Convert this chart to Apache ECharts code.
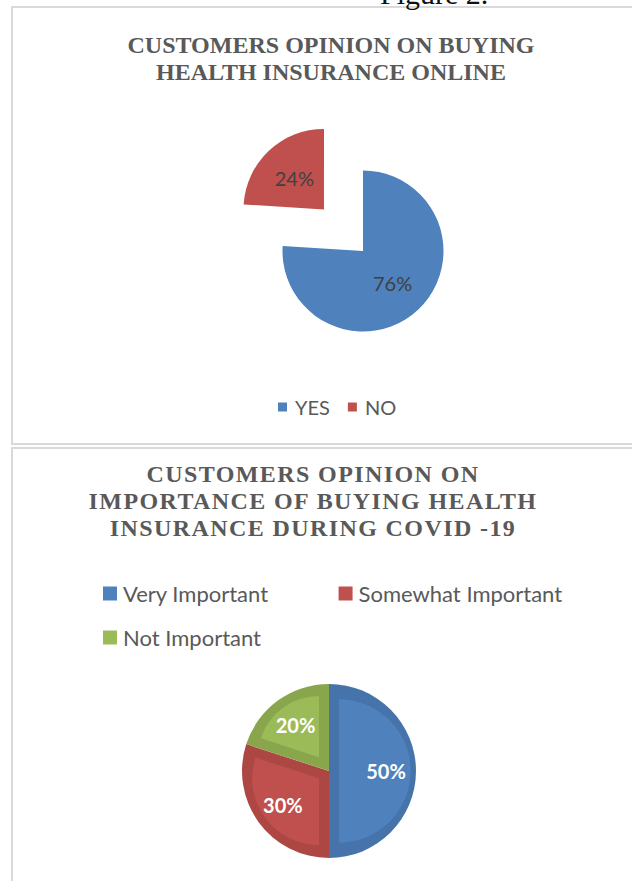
<!DOCTYPE html>
<html>
<head>
<meta charset="utf-8">
<script src="https://cdn.jsdelivr.net/npm/echarts@6/dist/echarts.min.js"></script>
<style>
  html, body { margin: 0; padding: 0; background: #ffffff; }
  #chart { width: 632px; height: 881px; }
</style>
</head>
<body>
<div id="chart"></div>
<script>
// Survey answers: buying health insurance online
const onlineCategories = ['YES', 'NO'];
const onlineValues = [76, 24];
const onlineColors = ['#4f81bd', '#c0504d'];
const onlineExploded = 'NO';
const onlineTitle = 'CUSTOMERS OPINION ON BUYING\nHEALTH INSURANCE ONLINE';

// Survey answers: importance of buying health insurance during COVID-19
const covidCategories = ['Very Important', 'Somewhat Important', 'Not Important'];
const covidValues = [50, 30, 20];
const covidColors = ['#4f81bd', '#c0504d', '#9bbb59'];
const covidEdgeColors = ['#4673aa', '#ad4744', '#8aa64d'];
const covidTitleLines = ['CUSTOMERS OPINION ON', 'IMPORTANCE OF BUYING HEALTH', 'INSURANCE DURING COVID -19'];

const figureCaption = 'Figure 2.';

const chart = echarts.init(document.getElementById('chart'), null, { renderer: 'svg' });

// Bevelled pie: a darker base disc with a lighter, inset face on every slice
const bevel = { center: [329, 771], r: 87, inset: 10 };
const covidTotal = covidValues.reduce((a, b) => a + b, 0);
const faceSeries = covidValues.map((v, k) => {
  const half = Math.min(Math.PI * v / covidTotal, Math.PI / 2);
  const shift = bevel.inset / Math.sin(half);
  const rin = bevel.r - bevel.inset;
  const rEnd = Math.sqrt(rin * rin - bevel.inset * bevel.inset) - shift * Math.cos(half);
  const rMid = rin - shift;
  return {
    type: 'pie',
    center: bevel.center,
    radius: (rEnd + rMid) / 2,
    silent: true,
    animation: false,
    selectedMode: 'multiple',
    selectedOffset: shift,
    label: { show: false },
    labelLine: { show: false },
    emphasis: { disabled: true },
    data: covidCategories.map((name, i) => ({
      name,
      value: covidValues[i],
      selected: i === k,
      itemStyle: { color: i === k ? covidColors[i] : 'transparent' }
    }))
  };
});

const titleStyle = {
  fontFamily: 'Liberation Serif',
  fontWeight: 'bold',
  fontSize: 24,
  lineHeight: 27,
  color: '#595959'
};

const legendText2 = { fontFamily: 'Lato', fontSize: 22, lineHeight: 22, color: '#595959', padding: [0, 0, 0, 1] };

const option = {
  animation: false,
  backgroundColor: '#ffffff',
  title: [
    { text: onlineTitle, left: 331, top: 31, textAlign: 'center', padding: 0, textStyle: titleStyle },
    { text: covidTitleLines.join('\n'), left: 313, top: 460, textAlign: 'center', padding: 0, textStyle: titleStyle }
  ],
  legend: [
    {
      data: onlineCategories.map((name, i) => ({ name, itemStyle: { color: onlineColors[i] } })),
      left: 278, top: 397, orient: 'horizontal', padding: 0,
      icon: 'rect', itemWidth: 9, itemHeight: 9, itemGap: 18,
      selectedMode: false,
      textStyle: { fontFamily: 'Lato', fontSize: 20, lineHeight: 20, color: '#595959', padding: [0, 0, 0, 3] }
    },
    {
      data: covidCategories.slice(0, 2).map((name, i) => ({ name, itemStyle: { color: covidColors[i] } })),
      left: 103, top: 582.5, orient: 'horizontal', padding: 0,
      icon: 'rect', itemWidth: 14, itemHeight: 14, itemGap: 70,
      selectedMode: false,
      textStyle: legendText2
    },
    {
      data: covidCategories.slice(2).map((name, i) => ({ name, itemStyle: { color: covidColors[i + 2] } })),
      left: 103, top: 626.5, orient: 'horizontal', padding: 0,
      icon: 'rect', itemWidth: 14, itemHeight: 14, itemGap: 70,
      selectedMode: false,
      textStyle: legendText2
    }
  ],
  graphic: [
    { type: 'rect', silent: true, z: -10, shape: { x: 12, y: 7, width: 640, height: 437 },
      style: { fill: 'none', stroke: '#d9d9d9', lineWidth: 2 } },
    { type: 'rect', silent: true, z: -10, shape: { x: 12, y: 448, width: 640, height: 460 },
      style: { fill: 'none', stroke: '#d9d9d9', lineWidth: 2 } },
    { type: 'text', silent: true, x: 380, y: -7,
      style: { text: figureCaption, font: '30px "Liberation Serif"', fill: '#111111', verticalAlign: 'middle' } }
  ],
  series: [
    {
      type: 'pie',
      center: [363, 251],
      radius: 80.5,
      selectedMode: 'single',
      selectedOffset: 57,
      label: { show: true, position: 'inside', formatter: '{c}%', color: '#404040', fontFamily: 'Lato', fontSize: 20 },
      labelLine: { show: false },
      emphasis: { disabled: true },
      data: onlineCategories.map((name, i) => ({
        name,
        value: onlineValues[i],
        selected: name === onlineExploded,
        itemStyle: { color: onlineColors[i] }
      }))
    },
    {
      type: 'pie',
      center: bevel.center,
      radius: bevel.r,
      silent: true,
      label: { show: false },
      labelLine: { show: false },
      emphasis: { disabled: true },
      data: covidCategories.map((name, i) => ({ name, value: covidValues[i], itemStyle: { color: covidEdgeColors[i] } }))
    },
    ...faceSeries,
    {
      // value labels for the bevelled pie
      type: 'pie',
      center: bevel.center,
      radius: 108,
      silent: true,
      label: { show: true, position: 'inside', formatter: '{c}%', color: '#ffffff', fontFamily: 'Lato', fontWeight: 'bold', fontSize: 20 },
      labelLine: { show: false },
      emphasis: { disabled: true },
      data: covidCategories.map((name, i) => ({ name, value: covidValues[i], itemStyle: { color: 'transparent' } }))
    }
  ]
};

chart.setOption(option);

// widen the tracking of the second heading
function spaceHeading() {
  document.querySelectorAll('#chart svg text').forEach(t => {
    if (covidTitleLines.includes(t.textContent.trim())) t.setAttribute('letter-spacing', '1.4');
  });
}
chart.on('finished', spaceHeading);
spaceHeading();
</script>
</body>
</html>
